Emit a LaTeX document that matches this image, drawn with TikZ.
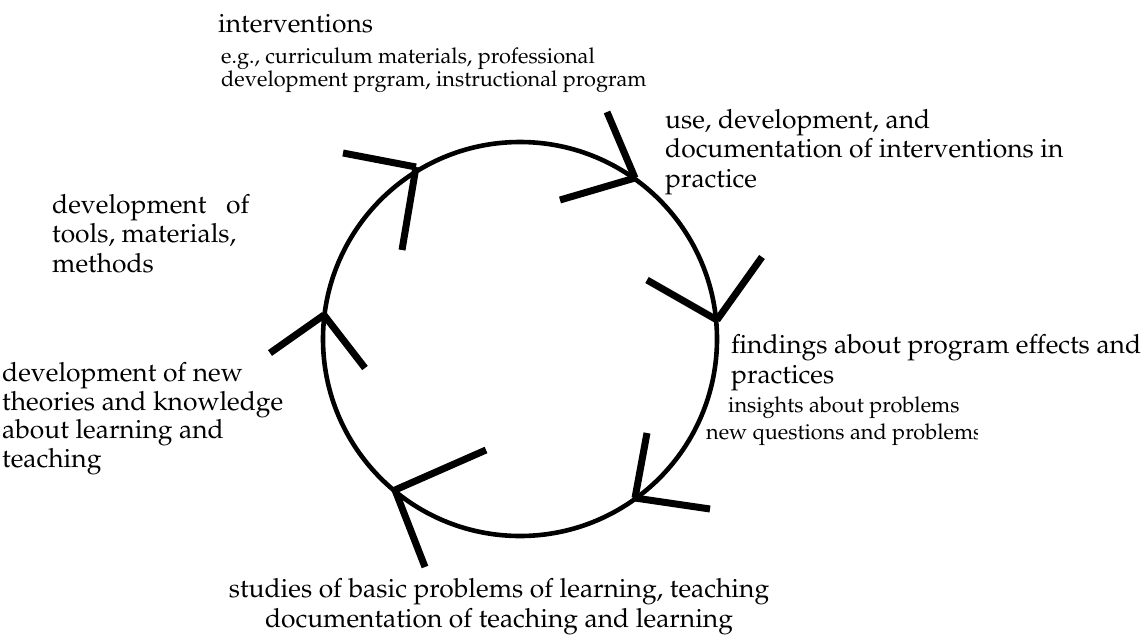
\documentclass[tikz,border=0pt]{standalone}
\usepackage[T1]{fontenc}
\usepackage{mathpazo}
\begin{document}
\begin{tikzpicture}[x=1pt,y=-1pt,
  ring/.style={draw=black,line width=4.6pt,circle,minimum size=394pt,inner sep=0pt},
  barb/.style={draw=black,line width=7pt,line cap=butt},
  big/.style={font=\fontsize{26.4}{29.5}\selectfont,inner sep=0pt,align=left},
  small/.style={font=\fontsize{21.7}{23}\selectfont,inner sep=0pt,align=left}]
\useasboundingbox (0,0) rectangle (1144,635);

% the cycle
\node[ring] (ring) at (520,339) {};

% arrow tips on the ring and the free ends of their barbs
\coordinate (t1) at (416,167); \coordinate (a1) at (343,153); \coordinate (b1) at (402,250);
\coordinate (t2) at (635,178); \coordinate (a2) at (607,112); \coordinate (b2) at (560,200);
\coordinate (t3) at (717,320); \coordinate (a3) at (647,280); \coordinate (b3) at (762,257);
\coordinate (t4) at (635,498); \coordinate (a4) at (647,433); \coordinate (b4) at (710,509);
\coordinate (t5) at (395,490); \coordinate (a5) at (486,450); \coordinate (b5) at (425,567);
\coordinate (t6) at (324,315); \coordinate (a6) at (365,368); \coordinate (b6) at (270,353);

\foreach \i in {1,...,6}{
  \draw[barb] (a\i) -- (t\i);
  \draw[barb] (b\i) -- (t\i);
}

% labels (base anchor of a multi-line label is its last baseline)
\node[big,anchor=base west] (interv) at (218,32) {interventions};
\node[small,anchor=base west] (eg) at (221,86) {e.g., curriculum materials, professional\\development prgram, instructional program};
\node[big,anchor=base west] (use) at (665,187) {use, development, and\\documentation of interventions in\\practice};
\node[big,anchor=base west] (find) at (731,383) {findings about program effects and\\practices};
\node[small,anchor=base west] (insight) at (728,412) {insights about problems};
\begin{scope}
  \clip (700,415) rectangle (977,450);
  \node[small,anchor=base west] (newq) at (706,439) {new questions and problems};
\end{scope}
\node[big,anchor=base,align=center] (studies) at (499,627) {studies of basic problems of learning, teaching\\documentation of teaching and learning};
\node[big,anchor=base west,font=\fontsize{26.4}{28.5}\selectfont] (theory) at (2,467) {development of new\\theories and knowledge\\about learning and\\teaching};
\node[big,anchor=base west] (tools) at (52,272) {development~~ of\\tools, materials,\\methods};
\end{tikzpicture}
\end{document}
